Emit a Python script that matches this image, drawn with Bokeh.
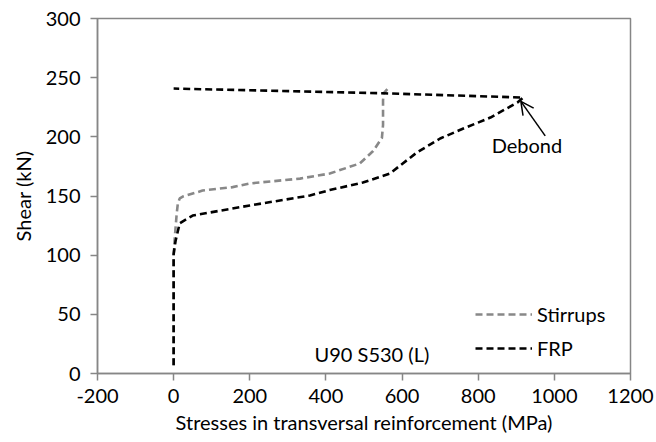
from bokeh.plotting import figure
from bokeh.models import (Range1d, FixedTicker, Legend, LegendItem, Arrow,
                          OpenHead, Label, ColumnDataSource)
from bokeh.embed import file_html
from bokeh.resources import INLINE

# Shear force vs. stress in the transversal reinforcement (beam U90 S530, left side)
stirrups_stress = [0, 0, 3, 8, 11, 16, 24, 76, 155, 200, 332, 410, 489, 524, 547, 550, 550, 552, 563]
stirrups_shear = [7, 100, 115, 135, 143.6, 148, 149.5, 154.6, 157.5, 160.6, 164.7, 169, 177.5, 188, 199, 210, 231, 237, 241]

frp_stress = [0, 0, 0, 5, 16, 50, 200, 358, 410, 497, 568, 595, 639, 700, 761, 832, 903, 918, 550, 0]
frp_shear = [7, 79, 101, 112, 127, 133.5, 142, 150.4, 155, 161.4, 169, 175.8, 186.8, 198.6, 207, 216.3, 229, 233.2, 236.8, 240.8]

x_ticks = [-200, 0, 200, 400, 600, 800, 1000, 1200]
x_tick_labels = ["-200", "0", "200", "400", "600", "800", "1000", "1200"]
y_ticks = [0, 50, 100, 150, 200, 250, 300]
y_tick_labels = ["0", "50", "100", "150", "200", "250", "300"]

FONT = "Lato"
FS = "20px"
AXIS_GREY = "#868686"

p = figure(width=656, height=442, output_backend="svg", toolbar_location=None,
           x_range=Range1d(-200, 1200), y_range=Range1d(0, 300),
           min_border_left=97, min_border_right=26, min_border_top=18,
           min_border_bottom=69)

p.grid.visible = False
p.outline_line_color = AXIS_GREY
p.outline_line_width = 1.5
p.background_fill_color = "white"
p.border_fill_color = "white"

for ax, ticks, labels in ((p.xaxis[0], x_ticks, x_tick_labels),
                          (p.yaxis[0], y_ticks, y_tick_labels)):
    ax.ticker = FixedTicker(ticks=ticks)
    ax.major_label_overrides = {t: l for t, l in zip(ticks, labels)}
    ax.minor_tick_line_color = None
    ax.major_tick_in = 0
    ax.major_tick_out = 7
    ax.axis_line_color = AXIS_GREY
    ax.axis_line_width = 1.5
    ax.major_tick_line_color = AXIS_GREY
    ax.major_tick_line_width = 1.5
    ax.major_label_text_font = FONT
    ax.major_label_text_font_size = FS
    ax.major_label_text_color = "black"
    ax.axis_label_text_font = FONT
    ax.axis_label_text_font_size = FS
    ax.axis_label_text_font_style = "normal"
    ax.axis_label_text_color = "black"

p.xaxis.axis_label = "Stresses in transversal reinforcement (MPa)"
p.yaxis.axis_label = "Shear (kN)"
p.xaxis.major_label_standoff = 8
p.xaxis.axis_label_standoff = 4
p.yaxis.major_label_standoff = 10
p.yaxis.axis_label_standoff = 8

src_s = ColumnDataSource(dict(x=stirrups_stress, y=stirrups_shear))
src_f = ColumnDataSource(dict(x=frp_stress, y=frp_shear))

r_s = p.line("x", "y", source=src_s, line_color="#888888", line_width=2.6,
             line_dash="7 4")
r_f = p.line("x", "y", source=src_f, line_color="black", line_width=2.6,
             line_dash="7 4")

legend = Legend(items=[LegendItem(label="Stirrups", renderers=[r_s]),
                       LegendItem(label="FRP", renderers=[r_f])],
                location=(378, 13), orientation="vertical",
                border_line_color=None, background_fill_alpha=0,
                padding=0, margin=0, spacing=10,
                glyph_width=57, glyph_height=20, label_height=20,
                label_standoff=5,
                label_text_font=FONT, label_text_font_size=FS,
                label_text_color="black")
p.add_layout(legend, "center")

# Specimen tag
p.add_layout(Label(x=370, y=16.9, text="U90 S530 (L)", text_font=FONT,
                   text_font_size=FS, text_align="left",
                   text_baseline="middle", text_color="black"))

# Debonding annotation
p.add_layout(Arrow(end=OpenHead(size=13, line_width=1.5, line_color="black"),
                   x_start=976, y_start=200.8, x_end=912, y_end=230,
                   line_width=1.5, line_color="black"))
p.add_layout(Label(x=928, y=192.7, text="Debond", text_font=FONT,
                   text_font_size=FS, text_align="center",
                   text_baseline="middle", text_color="black"))

open("out.html", "w").write(file_html(p, INLINE))
